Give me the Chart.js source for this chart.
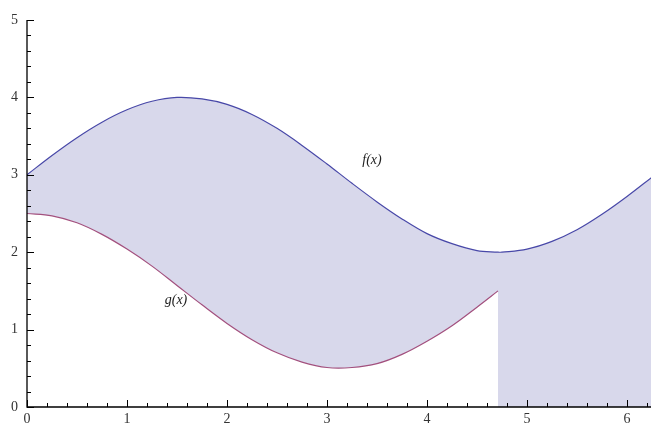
<!DOCTYPE html>
<html>
<head>
<meta charset="utf-8">
<script src="https://cdn.jsdelivr.net/npm/chart.js@4.4.1/dist/chart.umd.min.js"></script>
<style>
  html, body { margin: 0; padding: 0; background: #fff; }
  #wrap { width: 651px; height: 428px; }
</style>
</head>
<body>
<div id="wrap"><canvas id="plot"></canvas></div>
<script>
// x values where the shaded band is between f and g
const xsLeft = [0, 0.25, 0.5, 0.75, 1, 1.25, 1.5, 1.75, 2, 2.25, 2.5, 2.75, 3, 3.25, 3.5, 3.75, 4, 4.25, 4.5, 4.71];
const fLeft  = [3.00, 3.25, 3.48, 3.68, 3.84, 3.95, 4.00, 3.98, 3.91, 3.78, 3.60, 3.38, 3.14, 2.89, 2.65, 2.43, 2.24, 2.11, 2.02, 2.00];
const gLeft  = [2.50, 2.47, 2.38, 2.23, 2.04, 1.82, 1.57, 1.32, 1.08, 0.87, 0.70, 0.58, 0.51, 0.51, 0.56, 0.68, 0.85, 1.05, 1.29, 1.50];

// right part: f filled down to the axis
const xsRight = [4.71, 4.75, 5, 5.25, 5.5, 5.75, 6, 6.25, 6.28];
const fRight  = [2.00, 2.00, 2.04, 2.14, 2.29, 2.49, 2.72, 2.97, 3.00];

const xTicks = [0, 1, 2, 3, 4, 5, 6];
const yTicks = [0, 1, 2, 3, 4, 5];

const labels = [
  { text: "f(x)", x: 3.45, y: 3.19 },
  { text: "g(x)", x: 1.49, y: 1.38 }
];

const fillColor = "rgba(216, 216, 235, 1)";
const fColor = "#4848a8";
const gColor = "#a3507e";

function pts(xs, ys) {
  return xs.map((x, i) => ({ x: x, y: ys[i] }));
}

// axes with inward ticks, like the original plot
const axesPlugin = {
  id: "axesPlugin",
  afterDatasetsDraw(chart) {
    const ctx = chart.ctx;
    const xs = chart.scales.x, ys = chart.scales.y;
    const left = xs.left, bottom = ys.bottom, top = ys.top, right = xs.right;
    ctx.save();
    ctx.strokeStyle = "#000";
    ctx.lineWidth = 1.3;
    ctx.beginPath();
    ctx.moveTo(left, top);
    ctx.lineTo(left, bottom);
    ctx.lineTo(right + 2, bottom);
    ctx.stroke();

    ctx.lineWidth = 1;
    ctx.beginPath();
    for (let v = 0; v <= 6.25; v += 0.2) {
      const major = Math.abs(v - Math.round(v)) < 1e-6;
      const px = Math.round(xs.getPixelForValue(v)) + 0.5;
      ctx.moveTo(px, bottom);
      ctx.lineTo(px, bottom - (major ? 7 : 4));
    }
    for (let v = 0; v <= 5.001; v += 0.2) {
      const major = Math.abs(v - Math.round(v)) < 1e-6;
      const py = Math.round(ys.getPixelForValue(v)) + 0.5;
      ctx.moveTo(left, py);
      ctx.lineTo(left + (major ? 7 : 4), py);
    }
    ctx.stroke();

    ctx.fillStyle = "#222";
    ctx.font = "italic 14px 'Liberation Serif', serif";
    ctx.textAlign = "center";
    ctx.textBaseline = "middle";
    labels.forEach(l => {
      ctx.fillText(l.text, xs.getPixelForValue(l.x), ys.getPixelForValue(l.y));
    });
    ctx.restore();
  }
};

new Chart(document.getElementById("plot"), {
  type: "line",
  data: {
    datasets: [
      {
        label: "g",
        data: pts(xsLeft, gLeft),
        borderColor: gColor,
        borderWidth: 1.2,
        pointRadius: 0,
        tension: 0.35,
        fill: false,
        order: 1
      },
      {
        label: "f",
        data: pts(xsLeft, fLeft),
        borderColor: fColor,
        borderWidth: 1.2,
        pointRadius: 0,
        tension: 0.35,
        fill: { target: 0 },
        backgroundColor: fillColor,
        order: 2
      },
      {
        label: "f right",
        data: pts(xsRight, fRight),
        borderColor: fColor,
        borderWidth: 1.2,
        pointRadius: 0,
        tension: 0.35,
        fill: "origin",
        backgroundColor: fillColor,
        order: 2
      }
    ]
  },
  options: {
    responsive: true,
    maintainAspectRatio: false,
    animation: false,
    layout: { padding: { top: 20, right: 0, left: 0, bottom: 0 } },
    plugins: {
      legend: { display: false },
      tooltip: { enabled: false }
    },
    scales: {
      x: {
        type: "linear",
        min: 0,
        max: 6.24,
        grid: { display: false, drawTicks: false },
        border: { display: false },
        afterBuildTicks(scale) {
          scale.ticks = xTicks.map(v => ({ value: v }));
        },
        afterFit(scale) { scale.height = 21; },
        ticks: {
          padding: 4,
          color: "#333",
          font: { family: "'Liberation Serif', serif", size: 14 },
          maxRotation: 0
        }
      },
      y: {
        type: "linear",
        min: 0,
        max: 5,
        grid: { display: false, drawTicks: false },
        border: { display: false },
        afterBuildTicks(scale) {
          scale.ticks = yTicks.map(v => ({ value: v }));
        },
        afterFit(scale) { scale.width = 27; },
        ticks: {
          padding: 9,
          color: "#333",
          font: { family: "'Liberation Serif', serif", size: 14 }
        }
      }
    }
  },
  plugins: [axesPlugin]
});
</script>
</body>
</html>
